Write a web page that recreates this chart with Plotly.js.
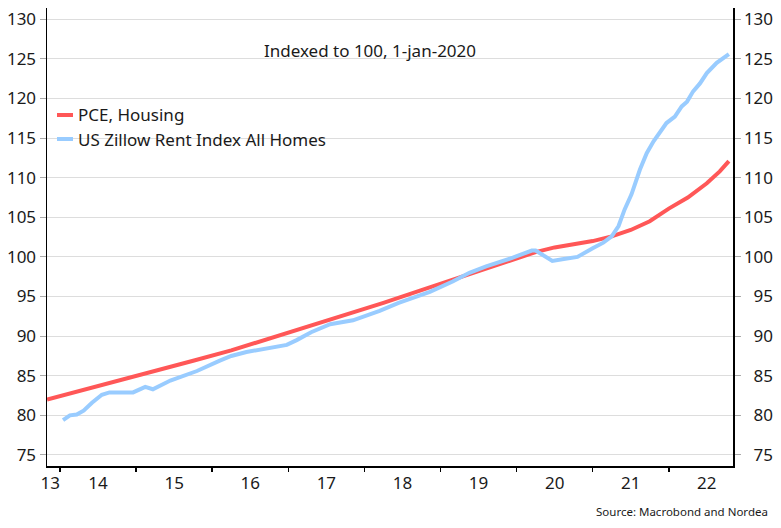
<!DOCTYPE html>
<html>
<head>
<meta charset="utf-8">
<script src="https://cdn.plot.ly/plotly-3.0.1.min.js"></script>
<style>
  html, body { margin: 0; padding: 0; background: #ffffff; }
  #chart { width: 781px; height: 528px; }
</style>
</head>
<body>
<div id="chart"></div>
<script>
// ---- Data (decimal years, index 1-jan-2020 = 100) ----
const pceYears = [2013.83, 2014.25, 2014.75, 2015.25, 2015.75, 2016.25, 2016.75, 2017.25, 2017.75,
  2018.25, 2018.75, 2019.25, 2019.75, 2020.0, 2020.25, 2020.5, 2020.75, 2021.0, 2021.25, 2021.5,
  2021.75, 2022.0, 2022.25, 2022.5, 2022.67, 2022.79];
const pceValues = [82.0, 83.1, 84.3, 85.6, 86.9, 88.2, 89.7, 91.1, 92.6,
  94.2, 95.8, 97.4, 99.0, 99.9, 100.6, 101.2, 101.6, 102.0, 102.6, 103.4,
  104.5, 106.1, 107.5, 109.3, 110.8, 112.1];

const zillowYears = [2014.04, 2014.13, 2014.22, 2014.31, 2014.42, 2014.55, 2014.65, 2014.96, 2015.12,
  2015.22, 2015.45, 2015.8, 2016.1, 2016.25, 2016.45, 2016.7, 2016.98, 2017.11, 2017.3, 2017.55,
  2017.85, 2018.2, 2018.45, 2018.86, 2019.16, 2019.38, 2019.6, 2019.95, 2020.2, 2020.25, 2020.35,
  2020.47, 2020.6, 2020.8, 2021.0, 2021.14, 2021.25, 2021.34, 2021.42, 2021.51, 2021.62, 2021.71,
  2021.8, 2021.97, 2022.08, 2022.17, 2022.24, 2022.32, 2022.41, 2022.5, 2022.63, 2022.79];
const zillowValues = [79.4, 80.0, 80.1, 80.6, 81.6, 82.6, 82.9, 82.9, 83.6,
  83.3, 84.4, 85.6, 86.9, 87.5, 88.0, 88.4, 88.9, 89.5, 90.5, 91.5,
  92.0, 93.2, 94.2, 95.6, 96.9, 98.0, 98.8, 99.9, 100.8, 100.8, 100.2,
  99.5, 99.7, 100.0, 101.1, 101.8, 102.6, 103.9, 106.0, 107.9, 111.0, 113.1,
  114.6, 116.9, 117.7, 119.0, 119.6, 120.9, 121.9, 123.2, 124.5, 125.6];

const seriesNames = ['PCE, Housing', 'US Zillow Rent Index All Homes'];
const seriesColors = ['#ff5757', '#99ccff'];
const xLabelPositions = [2013.87, 2014.5, 2015.5, 2016.5, 2017.5, 2018.5, 2019.5, 2020.5, 2021.5, 2022.5];
const xLabels = ['13', '14', '15', '16', '17', '18', '19', '20', '21', '22'];
const yearBoundaries = [2014, 2015, 2016, 2017, 2018, 2019, 2020, 2021, 2022];
const yTicks = [75, 80, 85, 90, 95, 100, 105, 110, 115, 120, 125, 130];

// ---- Layout constants ----
const W = 781, H = 528;
const L = 47, R = 733, T = 8, B = 466;
const xRange = [2013.829, 2022.844];
const yRange = [73.61, 131.42];
const FONT = '"Noto Sans", "Open Sans", sans-serif';
const TXT = '#1a1a1a';
const px = v => (v - L) / (R - L);          // pixel x -> paper x
const py = v => 1 - (v - T) / (B - T);      // pixel y -> paper y

const traces = [
  { x: pceYears, y: pceValues, name: seriesNames[0], type: 'scatter', mode: 'lines',
    line: { color: seriesColors[0], width: 4 }, hoverinfo: 'skip', showlegend: false },
  { x: zillowYears, y: zillowValues, name: seriesNames[1], type: 'scatter', mode: 'lines',
    line: { color: seriesColors[1], width: 4 }, hoverinfo: 'skip', showlegend: false },
  { x: [], y: [], xaxis: 'x2', yaxis: 'y2', showlegend: false, hoverinfo: 'skip', type: 'scatter', mode: 'lines' }
];

const rightText = yTicks.map(v => (v < 100 ? '\u2007' : '') + v);

// legend drawn as line samples + text
const legendRows = [115, 139];
const legendShapes = seriesNames.map((n, i) => ({
  type: 'line', xref: 'paper', yref: 'paper', x0: px(57), x1: px(73), y0: py(legendRows[i]), y1: py(legendRows[i]),
  line: { color: seriesColors[i], width: 4 }
}));
const legendTexts = seriesNames.map((n, i) => ({
  text: n, xref: 'paper', yref: 'paper', x: px(76), xanchor: 'left', y: py(legendRows[i]), yanchor: 'middle',
  showarrow: false, font: { family: FONT, size: 17, color: TXT }
}));

const layout = {
  width: W, height: H,
  margin: { l: L, r: W - R, t: T, b: H - B, pad: 0 },
  paper_bgcolor: '#ffffff', plot_bgcolor: '#ffffff',
  font: { family: FONT, color: TXT, size: 17 },
  showlegend: false,
  title: { text: 'Indexed to 100, 1-jan-2020', x: 370 / W, xanchor: 'center',
           y: 1 - 51 / H, yanchor: 'middle', font: { family: FONT, size: 17, color: TXT } },
  xaxis: {
    range: xRange, tickmode: 'array', tickvals: xLabelPositions, ticktext: xLabels,
    ticks: '', ticklabelstandoff: 1, showgrid: false, zeroline: false, showline: true, linecolor: '#000000', linewidth: 1.5,
    tickfont: { family: FONT, size: 17, color: TXT }, fixedrange: true
  },
  xaxis2: {
    range: xRange, overlaying: 'x', anchor: 'y', side: 'bottom', tickmode: 'array', tickvals: yearBoundaries,
    ticks: 'outside', ticklen: 5, tickwidth: 1.5, tickcolor: '#000000', showticklabels: false,
    showgrid: false, zeroline: false, showline: false
  },
  yaxis: {
    range: yRange, tickmode: 'array', tickvals: yTicks, ticks: 'outside', ticklen: 6, tickcolor: '#aaaaaa',
    showgrid: true, gridcolor: '#dddddd', gridwidth: 1, zeroline: false,
    showline: true, linecolor: '#000000', linewidth: 1.5,
    tickfont: { family: FONT, size: 17, color: TXT }, fixedrange: true
  },
  yaxis2: {
    range: yRange, overlaying: 'y', side: 'right', anchor: 'x', tickmode: 'array', tickvals: yTicks,
    ticktext: rightText, ticks: 'outside', ticklen: 6, tickcolor: '#aaaaaa',
    showgrid: false, zeroline: false, showline: true, linecolor: '#000000', linewidth: 1.5,
    tickfont: { family: FONT, size: 17, color: TXT }, fixedrange: true
  },
  shapes: legendShapes,
  annotations: legendTexts.concat([
    { text: 'Source: Macrobond and Nordea', xref: 'paper', yref: 'paper',
      x: px(770), xanchor: 'right', y: py(511), yanchor: 'middle',
      showarrow: false, font: { family: FONT, size: 11.5, color: TXT } }
  ])
};

Plotly.newPlot('chart', traces, layout, { staticPlot: true, displayModeBar: false });
</script>
</body>
</html>
